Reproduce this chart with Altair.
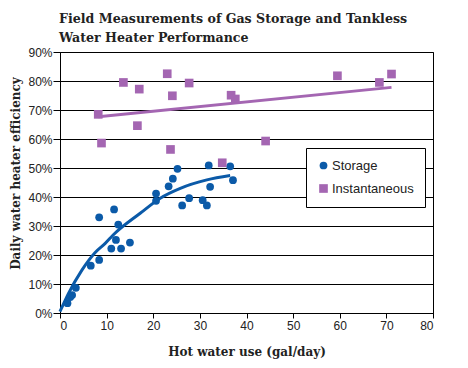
import altair as alt
import pandas as pd

# Storage water heaters (gal/day, % efficiency)
storage_x = [1.6, 2.6, 3.4, 2.2, 6.6, 8.4, 8.4, 11.6, 12.5, 12.0, 11.0, 13.1, 15.0,
             20.6, 20.6, 23.3, 24.2, 25.2, 26.2, 27.7, 30.6, 31.5, 31.9, 32.2, 36.5, 37.1]
storage_y = [3.4, 6.2, 8.7, 5.5, 16.3, 18.3, 33.0, 35.7, 30.5, 25.2, 22.2, 22.2, 24.3,
             41.2, 38.7, 43.7, 46.3, 49.7, 37.1, 39.6, 38.9, 37.1, 50.9, 43.5, 50.6, 45.8]

# Instantaneous (tankless) water heaters
inst_x = [8.2, 8.9, 13.6, 17.0, 16.6, 23.0, 24.1, 23.7, 27.7, 34.8, 36.7, 37.6, 44.1, 59.5, 68.5, 71.1]
inst_y = [68.5, 58.6, 79.5, 77.2, 64.6, 82.5, 74.9, 56.4, 79.3, 51.8, 75.1, 73.8, 59.3, 81.8, 79.5, 82.4]

# Trend curves
storage_fit_x = [0, 1.8, 4.7, 7.5, 9.7, 11.4, 17.2, 21.5, 25.8, 31.5, 36.5]
storage_fit_y = [0.5, 6.7, 14.8, 20.8, 24.0, 26.9, 34.4, 39.6, 43.0, 45.9, 47.4]
inst_fit_x = [8.2, 71.1]
inst_fit_y = [67.7, 77.8]

x_ticks = [0, 10, 20, 30, 40, 50, 60, 70, 80]
y_ticks = [0, 10, 20, 30, 40, 50, 60, 70, 80, 90]

BLUE = "#0b5aa8"
PURPLE = "#a466b2"

pts = pd.DataFrame({
    "x": storage_x + inst_x,
    "y": storage_y + inst_y,
    "type": ["Storage"] * len(storage_x) + ["Instantaneous"] * len(inst_x),
})
sfit = pd.DataFrame({"x": storage_fit_x, "y": storage_fit_y})
ifit = pd.DataFrame({"x": inst_fit_x, "y": inst_fit_y})

W, H = 373, 261

X = alt.X("x:Q", scale=alt.Scale(domain=[0, 80], nice=False),
          axis=alt.Axis(values=x_ticks, title="Hot water use (gal/day)",
                        grid=False, tickSize=5, labelPadding=2, labelOverlap=False,
                        titleY=42, titleBaseline="alphabetic"))
Y = alt.Y("y:Q", scale=alt.Scale(domain=[0, 90], nice=False),
          axis=alt.Axis(values=y_ticks, title="Daily water heater efficiency",
                        grid=True, tickSize=7, labelPadding=1, labelOverlap=False,
                        labelExpr="datum.value + '%'",
                        titleX=-45, titleY=121, titleAngle=-90, titleAlign="center",
                        titleBaseline="middle"))

types = ["Storage", "Instantaneous"]
leg = alt.Legend(title=None, orient="none", legendX=246, legendY=96,
                 strokeColor="black", fillColor="white", padding=11,
                 rowPadding=9, labelFontSize=13, labelOffset=2,
                 symbolSize=60, labelFont="Liberation Sans", labelColor="#222")

points = alt.Chart(pts).mark_point(filled=True, opacity=1).encode(
    x=X, y=Y,
    color=alt.Color("type:N", scale=alt.Scale(domain=types, range=[BLUE, PURPLE]), legend=leg),
    shape=alt.Shape("type:N", scale=alt.Scale(domain=types, range=["circle", "square"]), legend=leg),
    size=alt.Size("type:N", scale=alt.Scale(domain=types, range=[60, 75]), legend=None),
)

sline = alt.Chart(sfit).mark_line(color=BLUE, strokeWidth=3, interpolate="monotone").encode(x=X, y=Y)
iline = alt.Chart(ifit).mark_line(color=PURPLE, strokeWidth=3).encode(x=X, y=Y)

chart = alt.layer(sline, iline, points).properties(
    width=W, height=H,
    autosize=alt.AutoSizeParams(type="none"),
    padding={"left": 52, "top": 44, "right": 27, "bottom": 47},
    title=alt.TitleParams(
        text=["Field Measurements of Gas Storage and Tankless", "Water Heater Performance"],
        anchor="start", frame="group", font="DejaVu Serif", fontSize=12.6,
        fontWeight="bold", color="#222", lineHeight=19, offset=1, dx=-1),
).configure_view(stroke="black", strokeWidth=1).configure_axis(
    domainColor="black", tickColor="black", gridColor="black", gridWidth=1,
    labelFont="Liberation Sans", labelFontSize=12, labelColor="#222",
    titleFont="DejaVu Serif", titleFontSize=12, titleFontWeight="bold", titleColor="#222",
)

chart.save("out.html", embed_options={"renderer": "svg", "actions": False})
